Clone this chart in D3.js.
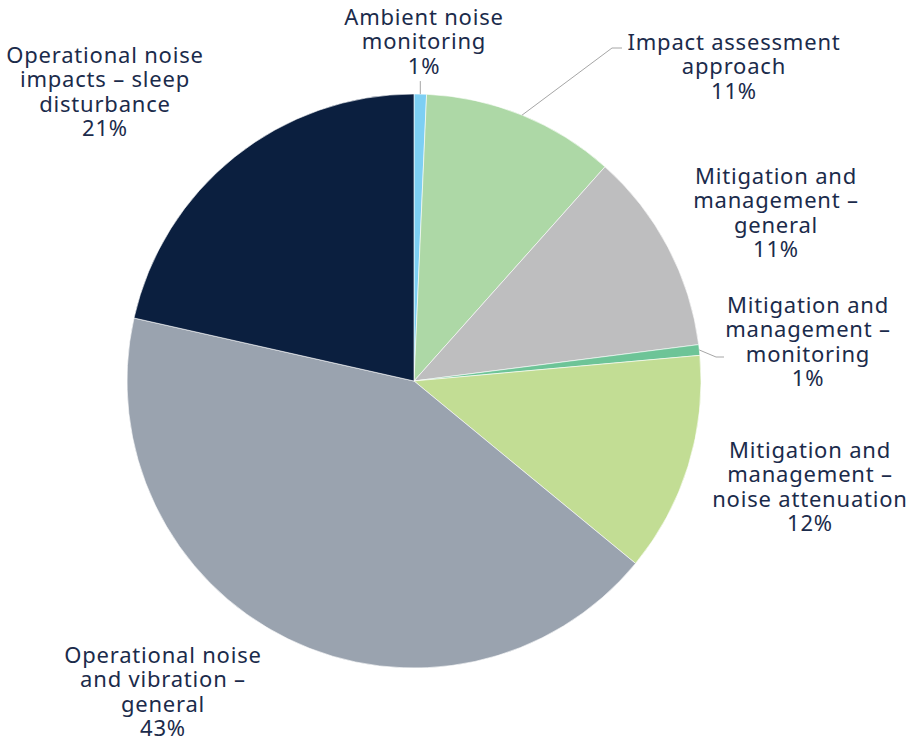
<!DOCTYPE html>
<html>
<head>
<meta charset="utf-8">
<script src="https://cdn.jsdelivr.net/npm/d3@7"></script>
<style>
  body { margin: 0; background: #fff; }
  text { font-family: "Noto Sans", "Open Sans", sans-serif; }
</style>
</head>
<body>
<svg id="svg"></svg>
<script>
const svgWidth = 912;
const svgHeight = 742;

// data (clockwise from 12 o'clock)
const categories = [
  "Ambient noise monitoring",
  "Impact assessment approach",
  "Mitigation and management – general",
  "Mitigation and management – monitoring",
  "Mitigation and management – noise attenuation",
  "Operational noise and vibration – general",
  "Operational noise impacts – sleep disturbance"
];
const values = [0.7, 10.9, 11.4, 0.6, 12.4, 42.6, 21.5];
const labelLines = [
  ["Ambient noise", "monitoring"],
  ["Impact assessment", "approach"],
  ["Mitigation and", "management –", "general"],
  ["Mitigation and", "management –", "monitoring"],
  ["Mitigation and", "management –", "noise attenuation"],
  ["Operational noise", "and vibration  –", "general"],
  ["Operational noise", "impacts  – sleep", "disturbance"]
];
const colors = ["#7dcff3", "#add8a6", "#bebebf", "#6dc497", "#c2dd94", "#9aa3af", "#0b1f3f"];

// layout of labels (centre x, first line centre y)
const labelPos = [
  [424, 17], [734, 42], [776, 176], [808, 305], [810, 450], [163, 655], [105, 55]
];

let svg = d3.select("#svg");
svg.attr("width", svgWidth).attr("height", svgHeight);

const cx = 414, cy = 381, radius = 287;
const total = d3.sum(values);

const pie = d3.pie().sort(null).value(d => d)(values);
const arc = d3.arc().innerRadius(0).outerRadius(radius);

const chart = svg.append("g").attr("transform", `translate(${cx},${cy})`);

chart.selectAll("path")
  .data(pie)
  .join("path")
  .attr("d", arc)
  .attr("fill", (d, i) => colors[i])
  .attr("stroke", "#fff")
  .attr("stroke-width", 0.6);

// leader lines for the small / offset labels
function edgePoint(d, r) {
  const a = (d.startAngle + d.endAngle) / 2;
  return [Math.sin(a) * r, -Math.cos(a) * r];
}
const leaders = [
  { i: 0, pts: d => { const p = edgePoint(d, radius); return [p, [p[0], p[1] - 13]]; } },
  { i: 1, pts: d => { const p = edgePoint(d, radius); return [p, [198, -333], [208, -333]]; } },
  { i: 3, pts: d => { const p = edgePoint(d, radius); return [p, [302, -24], [310, -24]]; } }
];
chart.selectAll("polyline.leader")
  .data(leaders)
  .join("polyline")
  .attr("class", "leader")
  .attr("points", l => l.pts(pie[l.i]).map(p => p.join(",")).join(" "))
  .attr("fill", "none")
  .attr("stroke", "#a6a6a6")
  .attr("stroke-width", 1);

// labels
const lineH = 24.5;
const labels = svg.append("g");
categories.forEach((c, i) => {
  const lines = labelLines[i].concat([Math.round(values[i] / total * 100) + "%"]);
  const t = labels.append("text")
    .attr("text-anchor", "middle")
    .attr("fill", "#1b2b4b")
    .style("font-size", "22px")
    .style("letter-spacing", "0.8px");
  lines.forEach((s, j) => {
    t.append("tspan")
      .attr("x", labelPos[i][0])
      .attr("y", labelPos[i][1] + j * lineH)
      .attr("dy", "0.35em")
      .text(s);
  });
});
</script>
</body>
</html>
